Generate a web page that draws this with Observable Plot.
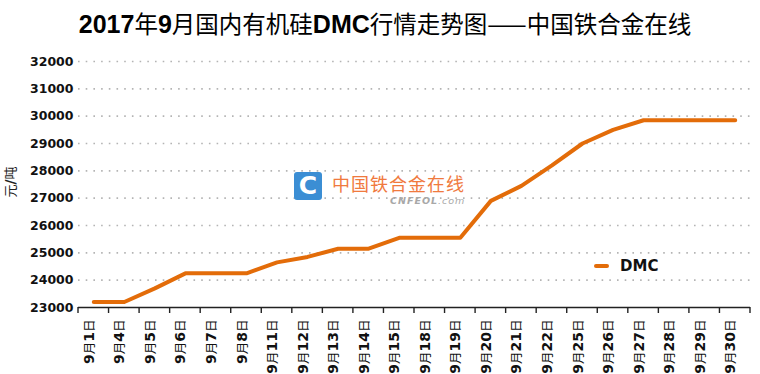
<!DOCTYPE html>
<html><head><meta charset="utf-8">
<script src="https://cdn.jsdelivr.net/npm/d3@7"></script>
<script src="https://cdn.jsdelivr.net/npm/@observablehq/plot@0.6"></script>
<style>
body{margin:0;background:#fff;}
#wrap{position:relative;width:760px;height:374px;overflow:hidden;background:#fff;}
#chart{position:absolute;left:0;top:0;}
#title{position:absolute;left:0;top:9px;width:770px;text-align:center;line-height:28px;font-size:23.5px;color:#000;font-family:"Noto Sans CJK SC",sans-serif;font-weight:normal;white-space:nowrap;}
#title b{font-family:"Liberation Sans Narrow","Liberation Sans",sans-serif;font-weight:bold;font-size:25px;}
#ylab{position:absolute;left:10px;top:182px;transform:translate(-50%,-50%) rotate(-90deg);font-family:"Noto Sans CJK SC",sans-serif;font-size:13px;line-height:16px;color:#222;white-space:nowrap;}
#ylab b{font-family:"DejaVu Sans";font-weight:bold;font-size:14px;}
#legline{position:absolute;left:594px;top:264px;width:15px;height:4px;border-radius:2px;background:#E36C09;}
#legtext{position:absolute;left:620px;top:257px;line-height:18px;font:bold 15px "DejaVu Sans",sans-serif;color:#111;}
#logo{position:absolute;left:294px;top:172px;width:28px;height:28px;border-radius:3px;background:#3b8ed4;color:#fff;font:bold 25px/28px "DejaVu Sans",sans-serif;text-align:center;}
#wm1{position:absolute;left:332px;top:172px;line-height:22px;font-family:"Noto Sans CJK SC",sans-serif;font-size:18px;color:#f07a3e;letter-spacing:1px;white-space:nowrap;}
#wm2{position:absolute;left:390px;top:195px;line-height:11px;font:italic bold 9.5px "DejaVu Sans",sans-serif;color:#a8a8a8;letter-spacing:1px;white-space:nowrap;}
#wm2 span{font-weight:normal;}
</style>
</head><body>
<div id="wrap">
  <div id="chart"></div>
  <div id="title"><b>2017</b>年<b>9</b>月国内有机硅<b>DMC</b>行情走势图——中国铁合金在线</div>
  <div id="ylab">元<b>/</b>吨</div>
  <div id="logo">C</div>
  <div id="wm1">中国铁合金在线</div>
  <div id="wm2">CNFEOL<span>.com</span></div>
  <div id="legline"></div>
  <div id="legtext">DMC</div>
</div>
<script>
const dates = ["9月1日","9月4日","9月5日","9月6日","9月7日","9月8日","9月11日","9月12日","9月13日","9月14日","9月15日","9月18日","9月19日","9月20日","9月21日","9月22日","9月25日","9月26日","9月27日","9月28日","9月29日","9月30日"];
const prices = [23200,23200,23700,24250,24250,24250,24650,24850,25150,25150,25550,25550,25550,26900,27450,28200,29000,29500,29850,29850,29850,29850];
const yTicks = [23000,24000,25000,26000,27000,28000,29000,30000,31000,32000];

const rows = dates.map((d, i) => ({date: d, price: prices[i]}));
const orange = "#E36C09";

const chart = Plot.plot({
  width: 760, height: 374,
  marginTop: 61, marginBottom: 67, marginLeft: 78, marginRight: 10,
  style: {background: "transparent", overflow: "visible", fontFamily: "DejaVu Sans"},
  x: {type: "band", domain: dates, padding: 0, round: false, axis: null},
  y: {domain: [23000, 32000], axis: null},
  marks: [
    Plot.ruleY(yTicks.slice(1), {stroke: "#b4b4b4", strokeWidth: 1.6, strokeDasharray: "1.6 6.1"}),
    Plot.ruleY([yTicks[0]], {stroke: "#222", strokeWidth: 1.4}),
    Plot.text(yTicks, {y: d => d, text: d => String(d), frameAnchor: "left", textAnchor: "end", dx: -5,
      fontSize: 12.5, fontWeight: "bold", fill: "#111"}),
    Plot.text(dates, {x: d => d, text: d => d, frameAnchor: "bottom", rotate: -90, textAnchor: "end", dy: 12,
      fontSize: 14, fill: "#111"}),
    Plot.line(rows, {x: "date", y: "price", stroke: orange, strokeWidth: 4})
  ]
});
document.getElementById("chart").appendChild(chart);

// boundary tick marks on the band axis
const xs = chart.scale("x");
const xScale = d3.scaleBand().domain(xs.domain).range(xs.range).paddingInner(0).paddingOuter(0);
const bounds = dates.map(d => xScale(d)).concat([xScale(dates[dates.length - 1]) + xScale.bandwidth()]);
const yBase = chart.scale("y").apply(yTicks[0]);
d3.select(chart).append("g").attr("aria-label", "x-ticks")
  .selectAll("line").data(bounds).join("line")
  .attr("x1", d => d).attr("x2", d => d)
  .attr("y1", yBase).attr("y2", yBase + 6)
  .attr("stroke", "#222").attr("stroke-width", 1.4);

// digits bold, CJK regular in x labels
const dateSet = new Set(dates);
d3.select(chart).selectAll("text").filter(function () { return dateSet.has(this.textContent); }).each(function () {
  const t = this.textContent;
  const sel = d3.select(this);
  sel.text(null);
  t.match(/\d+|\D+/g).forEach(p => {
    const isNum = /\d/.test(p);
    sel.append("tspan").text(p)
      .attr("font-weight", isNum ? "bold" : "normal")
      .attr("font-size", isNum ? 14 : 12.5)
      .attr("font-family", isNum ? "DejaVu Sans" : "Noto Sans CJK SC");
  });
});
</script>
</body></html>
